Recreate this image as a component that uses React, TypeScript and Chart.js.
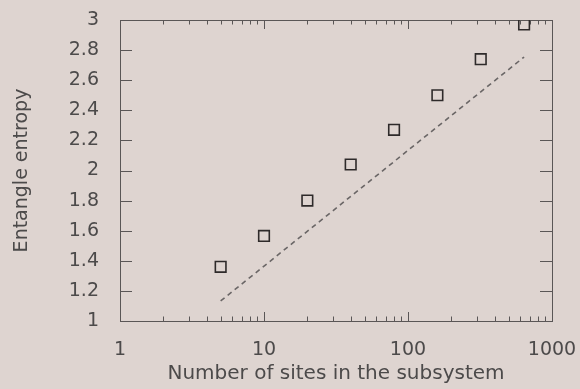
import { useEffect, useRef } from "react";
import { Chart, registerables } from "chart.js";

Chart.register(...registerables);

// Subsystem sizes and the measured entanglement entropy
const sites = [5, 10, 20, 40, 80, 160, 320, 640];
const entropy = [1.36, 1.565, 1.8, 2.04, 2.27, 2.5, 2.74, 2.97];

// Logarithmic fit line (two end points)
const fitSites = [5, 640];
const fitEntropy = [1.133, 2.754];

// Axis ranges and labelled ticks
const xRange = [1, 1000];
const xLabelTicks = [1, 10, 100, 1000];
const yRange = [1, 3];
const yStep = 0.2;

const BG = "#ded4d0";
const INK = "#4c4a4a";
const AXIS = "#5a5656";
const FONT = "'DejaVu Sans', 'Liberation Sans', sans-serif";

// Frame around the plot with inward tick marks on all four sides
const frameTicks = {
  id: "frameTicks",
  beforeDatasetsDraw(chart: any) {
    const { ctx, chartArea: a, scales } = chart;
    const x = scales.x;
    const y = scales.y;
    ctx.save();
    ctx.strokeStyle = AXIS;
    ctx.lineWidth = 1;
    ctx.beginPath();
    y.ticks.forEach((t: any) => {
      const py = Math.round(y.getPixelForValue(t.value)) + 0.5;
      ctx.moveTo(a.left, py);
      ctx.lineTo(a.left + 12, py);
      ctx.moveTo(a.right, py);
      ctx.lineTo(a.right - 12, py);
    });
    for (let d = xRange[0]; d < xRange[1]; d *= 10) {
      for (let m = 1; m <= 9; m++) {
        const px = Math.round(x.getPixelForValue(d * m)) + 0.5;
        const len = m === 1 ? 9 : 4.5;
        ctx.moveTo(px, a.bottom);
        ctx.lineTo(px, a.bottom - len);
        ctx.moveTo(px, a.top);
        ctx.lineTo(px, a.top + len);
      }
    }
    ctx.stroke();
    ctx.strokeRect(
      Math.round(a.left) + 0.5,
      Math.round(a.top) + 0.5,
      Math.round(a.right - a.left),
      Math.round(a.bottom - a.top)
    );
    ctx.restore();
  },
};

export default function App() {
  const canvasRef = useRef<HTMLCanvasElement | null>(null);

  useEffect(() => {
    const canvas = canvasRef.current;
    if (!canvas) return;

    const chart = new Chart(canvas, {
      type: "scatter",
      data: {
        datasets: [
          {
            data: sites.map((s, i) => ({ x: s, y: entropy[i] })),
            showLine: false,
            pointStyle: "rect",
            pointRadius: 7.5,
            pointBorderWidth: 1.6,
            pointBorderColor: "#2e2a2a",
            pointBackgroundColor: "rgba(0,0,0,0)",
            order: 0,
          },
          {
            data: fitSites.map((s, i) => ({ x: s, y: fitEntropy[i] })),
            showLine: true,
            pointRadius: 0,
            borderColor: "#6a6666",
            borderWidth: 1.6,
            borderDash: [5, 4],
            order: 1,
          },
        ],
      },
      options: {
        animation: false,
        responsive: true,
        maintainAspectRatio: false,
        layout: { padding: { top: 20, right: 28, left: 0, bottom: 0 } },
        plugins: {
          legend: { display: false },
          tooltip: { enabled: false },
        },
        scales: {
          x: {
            type: "logarithmic",
            min: xRange[0],
            max: xRange[1],
            grid: { display: false },
            border: { display: false },
            afterBuildTicks: (s: any) => {
              s.ticks = xLabelTicks.map((v) => ({ value: v }));
            },
            afterFit: (s: any) => {
              s.height = 68;
              s.paddingLeft = 0;
              s.paddingRight = 0;
            },
            ticks: {
              autoSkip: false,
              maxRotation: 0,
              padding: 10,
              color: INK,
              font: { family: FONT, size: 19 },
              callback: (v: any) => String(v),
            },
            title: {
              display: true,
              text: "Number of sites in the subsystem",
              color: INK,
              font: { family: FONT, size: 20 },
              padding: { top: 0, bottom: 3 },
            },
          },
          y: {
            type: "linear",
            min: yRange[0],
            max: yRange[1],
            grid: { display: false },
            border: { display: false },
            afterFit: (s: any) => {
              s.width = 120;
              s.paddingTop = 0;
              s.paddingBottom = 0;
            },
            ticks: {
              stepSize: yStep,
              padding: 13,
              color: INK,
              font: { family: FONT, size: 19 },
              callback: (v: any) => String(Number(Number(v).toFixed(1))),
            },
            title: {
              display: true,
              text: "Entangle entropy",
              color: INK,
              font: { family: FONT, size: 19 },
              padding: { top: 11, bottom: 0 },
            },
          },
        },
      },
      plugins: [frameTicks],
    });

    return () => chart.destroy();
  }, []);

  return (
    <div
      style={{
        position: "fixed",
        left: 0,
        top: 0,
        width: 580,
        height: 389,
        background: BG,
      }}
    >
      <canvas ref={canvasRef} />
    </div>
  );
}
